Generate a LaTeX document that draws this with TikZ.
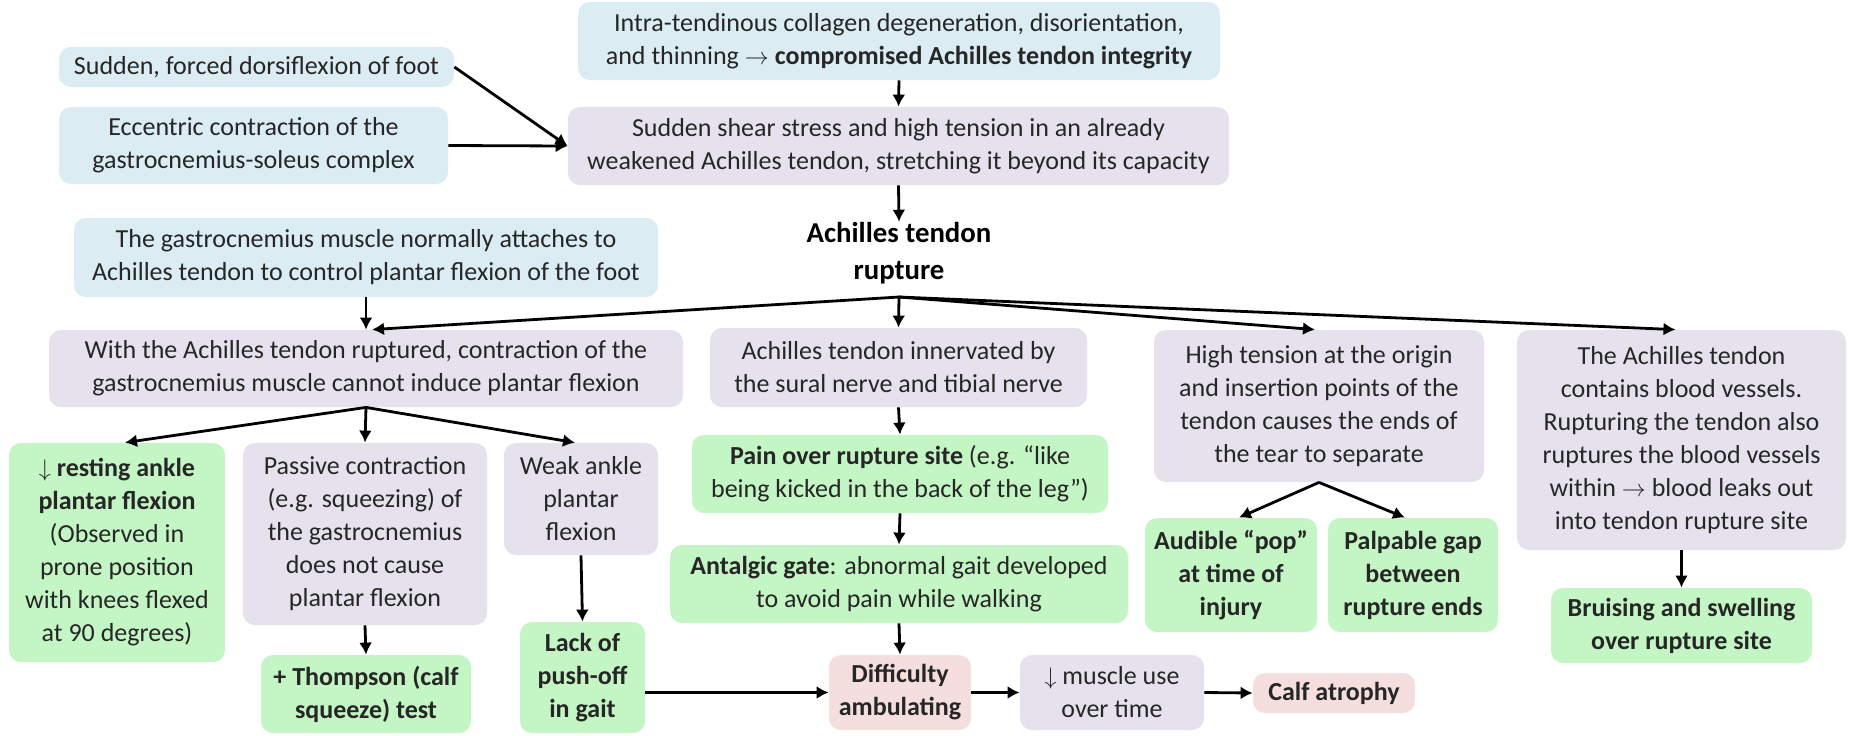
\documentclass[tikz,border=0pt]{standalone}
\usepackage{fontspec}
\setmainfont{Carlito}
\usetikzlibrary{arrows.meta}
\definecolor{bx}{RGB}{219,236,243}
\definecolor{lv}{RGB}{229,226,237}
\definecolor{gr}{RGB}{196,245,196}
\definecolor{pk}{RGB}{245,223,222}
\definecolor{tx}{RGB}{38,38,38}
\begin{document}
\begin{tikzpicture}[x=0.5pt,y=-0.5pt,
  box/.style={rounded corners=6pt, align=center, inner sep=0pt, text=tx,
    font=\fontsize{13}{16.5}\selectfont},
  sz/.style 2 args={minimum width=#1*0.5pt, minimum height=#2*0.5pt},
  bluebox/.style={box, fill=bx},
  lavbox/.style={box, fill=lv},
  grbox/.style={box, fill=gr},
  pkbox/.style={box, fill=pk},
  arr/.style={-{Latex[length=6pt,width=6.5pt]}, line width=1.4pt, black}]
\useasboundingbox[fill=white] (0,0) rectangle (1854,735);

% top
\node[bluebox, sz={395}{40}] (sudden) at (256.5,67) {Sudden, forced dorsiflexion of foot};
\node[bluebox, sz={389}{77}] (ecc) at (253.5,145.5) {Eccentric contraction of the\\gastrocnemius-soleus complex};
\node[bluebox, sz={642}{78}] (intra) at (899,41) {Intra-tendinous collagen degeneration, disorientation,\\and thinning $\rightarrow$ \textbf{compromised Achilles tendon integrity}};
\node[lavbox, sz={661}{78}] (shear) at (898.5,146) {Sudden shear stress and high tension in an already\\weakened Achilles tendon, stretching it beyond its capacity};
\node[align=center, inner sep=0pt, text=black, font=\fontsize{14.4}{18.5}\selectfont\bfseries] (rupture) at (899,253) {Achilles tendon\\rupture};
\node[bluebox, sz={584}{79}] (gastro) at (366,257.5) {The gastrocnemius muscle normally attaches to\\Achilles tendon to control plantar flexion of the foot};
\coordinate (fan) at (899,297);

% second row
\node[lavbox, sz={634}{77}] (with) at (366,368.5) {With the Achilles tendon ruptured, contraction of the\\gastrocnemius muscle cannot induce plantar flexion};
\node[lavbox, sz={377}{79}] (innerv) at (898.5,367.5) {Achilles tendon innervated by\\the sural nerve and tibial nerve};
\node[lavbox, sz={330}{152}] (high) at (1319,406) {High tension at the origin\\and insertion points of the\\tendon causes the ends of\\the tear to separate};
\node[lavbox, sz={329}{220}] (blood) at (1681.5,440) {The Achilles tendon\\contains blood vessels.\\Rupturing the tendon also\\ruptures the blood vessels\\within $\rightarrow$ blood leaks out\\into tendon rupture site};

% left column
\node[grbox, sz={216}{219}] (resting) at (117,552.5) {$\downarrow$ \textbf{resting ankle}\\\textbf{plantar flexion}\\(Observed in\\prone position\\with knees flexed\\at 90 degrees)};
\node[lavbox, sz={244}{182}] (passive) at (365,534) {Passive contraction\\(e.g. squeezing) of\\the gastrocnemius\\does not cause\\plantar flexion};
\node[lavbox, sz={154}{112}] (weak) at (581,499) {Weak ankle\\plantar\\flexion};
\node[grbox, sz={210}{78}] (thompson) at (366,694) {\textbf{+ Thompson (calf}\\\textbf{squeeze) test}};
\node[grbox, sz={125}{111}] (lack) at (582.5,677.5) {\textbf{Lack of}\\\textbf{push-off}\\\textbf{in gait}};

% middle column
\node[grbox, sz={416}{78}] (pain) at (900,474) {\textbf{Pain over rupture site} (e.g. “like\\being kicked in the back of the leg”)};
\node[grbox, sz={458}{78}] (antalgic) at (899,584) {\textbf{Antalgic gate}: abnormal gait developed\\to avoid pain while walking};
\node[pkbox, sz={142}{75}] (diff) at (900,692.5) {\textbf{Difficulty}\\\textbf{ambulating}};
\node[lavbox, sz={184}{75}] (muscle) at (1112,692.5) {$\downarrow$ muscle use\\over time};
\node[pkbox, sz={162}{40}] (calf) at (1334,693) {\textbf{Calf atrophy}};

% right
\node[grbox, sz={172}{114}] (audible) at (1231,575) {\textbf{Audible “pop”}\\\textbf{at time of}\\\textbf{injury}};
\node[grbox, sz={170}{114}] (palpable) at (1413,575) {\textbf{Palpable gap}\\\textbf{between}\\\textbf{rupture ends}};
\node[grbox, sz={261}{75}] (bruise) at (1681.5,625.5) {\textbf{Bruising and swelling}\\\textbf{over rupture site}};

% connectors
\draw[arr] (sudden.east) -- (shear.west);
\draw[arr] (ecc.east) -- (shear.west);
\draw[arr] (intra.south) -- (shear.north);
\draw[arr] (shear.south) -- (rupture.north);
\draw[arr] (gastro.south) -- (with.north);
\draw[arr] (fan) -- ([xshift=3pt]with.north);
\draw[arr] (fan) -- (innerv.north);
\draw[arr] (fan) -- ([xshift=-2pt]high.north);
\draw[arr] (fan) -- ([xshift=-3pt]blood.north);
\draw[arr] (with.south) -- ([xshift=4pt]resting.north);
\draw[arr] (with.south) -- (passive.north);
\draw[arr] (with.south) -- ([xshift=-3pt]weak.north);
\draw[arr] (passive.south) -- (thompson.north);
\draw[arr] (weak.south) -- (lack.north);
\draw[arr] (lack.east |- diff.west) -- (diff.west);
\draw[arr] (innerv.south) -- (pain.north);
\draw[arr] (pain.south) -- (antalgic.north);
\draw[arr] (antalgic.south) -- (diff.north);
\draw[arr] (diff.east) -- (muscle.west);
\draw[arr] (muscle.east) -- (calf.west);
\draw[arr] (high.south) -- ([xshift=4pt]audible.north);
\draw[arr] (high.south) -- ([xshift=-4pt]palpable.north);
\draw[arr] (blood.south) -- (bruise.north);
\end{tikzpicture}
\end{document}
